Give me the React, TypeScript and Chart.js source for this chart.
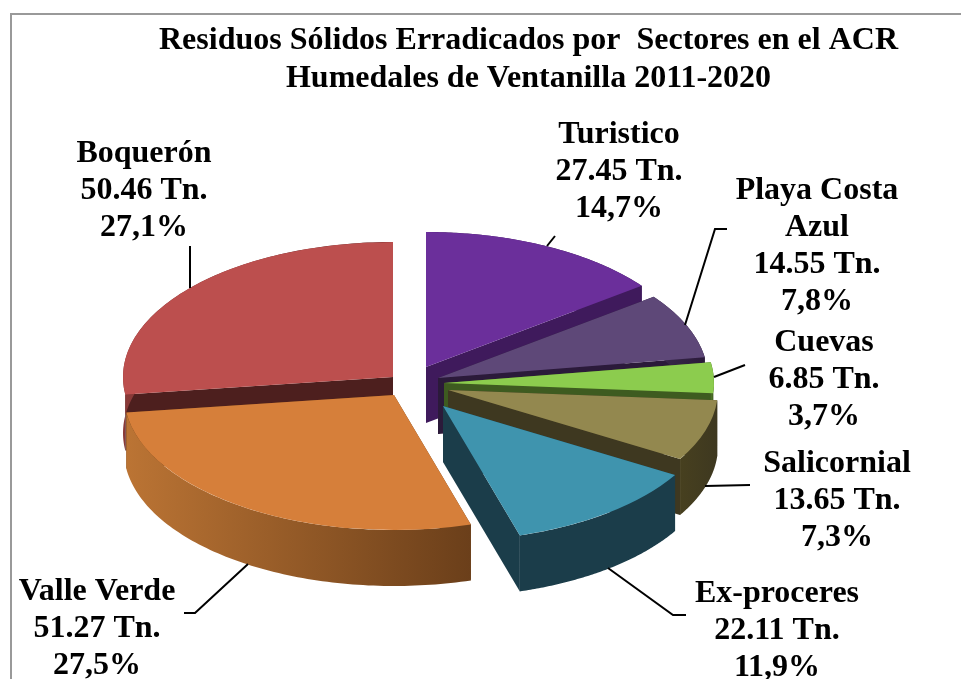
import React, { useEffect, useRef } from "react";
import { Chart, registerables } from "chart.js";

Chart.register(...registerables);

const categories = ["Turistico", "Playa Costa Azul", "Cuevas", "Salicornial", "Ex-proceres", "Valle Verde", "Boquerón"];
const tonnes = [27.45, 14.55, 6.85, 13.65, 22.11, 51.27, 50.46];
const tonneLabels = ["27.45 Tn.", "14.55 Tn.", "6.85 Tn.", "13.65 Tn.", "22.11 Tn.", "51.27 Tn.", "50.46 Tn."];
const percentLabels = ["14,7%", "7,8%", "3,7%", "7,3%", "11,9%", "27,5%", "27,1%"];
const titleLines = ["Residuos Sólidos Erradicados por  Sectores en el ACR", "Humedales de Ventanilla 2011-2020"];

const topColors = ["#6b2f9b", "#5e4878", "#8ccc4e", "#93884f", "#3f94ae", "#d67f3a", "#bc4f4e"];
const faceColors = ["#3f1a5c", "#2b1a3a", "#3e5b20", "#3e3820", "#1b3d4a", "#6b3f1a", "#4d1f1e"];
const wallLeftColors = ["#3f1a5c", "#3a2a4c", "#4e7328", "#47401f", "#1b3d4a", "#bb7434", "#8a3a38"];
const wallRightColors = ["#3f1a5c", "#2b1a3a", "#3e5b20", "#3e3820", "#1b3d4a", "#6b3f1a", "#4d1f1e"];

// Layout of the exploded 3-D pie
const RADIUS = 270;
const TILT = 0.5;
const DEPTH = 56;
const apexX = [426, 438, 444, 448, 443, 394, 393];
const apexY = [367, 378, 383, 390, 406, 395, 377];
const paintOrder = [6, 0, 1, 2, 3, 5, 4];

const FONT = "bold 32px 'Liberation Serif', 'Times New Roman', serif";
const LINE_GAP = 37;
const labelLayout = [
  { cx: 619, y: 135, lines: ["Turistico"] },
  { cx: 817, y: 191, lines: ["Playa Costa", "Azul"] },
  { cx: 824, y: 343, lines: ["Cuevas"] },
  { cx: 837, y: 464, lines: ["Salicornial"] },
  { cx: 777, y: 594, lines: ["Ex-proceres"] },
  { cx: 97, y: 592, lines: ["Valle Verde"] },
  { cx: 144, y: 154, lines: ["Boquerón"] },
];
const leaders = [
  [[547, 246], [555, 236]],
  [[685, 325], [715, 229], [727, 229]],
  [[714, 377], [745, 365]],
  [[705, 486], [750, 485]],
  [[608, 568], [673, 615], [686, 615]],
  [[248, 564], [195, 613], [184, 613]],
  [[190, 288], [190, 246]],
];

const pie3d = {
  id: "pie3d",
  beforeDraw(chart: any) {
    const { ctx, width, height } = chart;
    ctx.save();
    ctx.strokeStyle = "#999999";
    ctx.lineWidth = 2;
    ctx.beginPath();
    ctx.moveTo(11, height);
    ctx.lineTo(11, 14);
    ctx.lineTo(width, 14);
    ctx.stroke();
    ctx.restore();
  },
  beforeDatasetDraw(chart: any, args: any) {
    const { ctx } = chart;
    const arcs = chart.getDatasetMeta(args.index).data;
    const pt = (i: number, a: number, r: number, d: number) => [
      apexX[i] + Math.cos(a) * r,
      apexY[i] + Math.sin(a) * r * TILT + d,
    ];
    for (const i of paintOrder) {
      const arc = arcs[i];
      const { startAngle: s, endAngle: e } = arc;
      const r = arc.outerRadius;
      // radial cut faces
      ctx.fillStyle = faceColors[i];
      for (const a of [s, e]) {
        const o = pt(i, a, r, 0);
        const o2 = pt(i, a, r, DEPTH);
        ctx.beginPath();
        ctx.moveTo(apexX[i], apexY[i]);
        ctx.lineTo(o[0], o[1]);
        ctx.lineTo(o2[0], o2[1]);
        ctx.lineTo(apexX[i], apexY[i] + DEPTH);
        ctx.closePath();
        ctx.fill();
      }
      // outer wall
      const steps = 90;
      let minX = Infinity;
      let maxX = -Infinity;
      ctx.beginPath();
      for (let k = 0; k <= steps; k++) {
        const p = pt(i, s + ((e - s) * k) / steps, r, 0);
        minX = Math.min(minX, p[0]);
        maxX = Math.max(maxX, p[0]);
        if (k === 0) ctx.moveTo(p[0], p[1]);
        else ctx.lineTo(p[0], p[1]);
      }
      for (let k = steps; k >= 0; k--) {
        const p = pt(i, s + ((e - s) * k) / steps, r, DEPTH);
        ctx.lineTo(p[0], p[1]);
      }
      ctx.closePath();
      const g = ctx.createLinearGradient(minX, 0, maxX, 0);
      g.addColorStop(0, wallLeftColors[i]);
      g.addColorStop(1, wallRightColors[i]);
      ctx.fillStyle = g;
      ctx.fill();
      // top surface, drawn by the library's own arc element
      ctx.save();
      ctx.translate(apexX[i], apexY[i]);
      ctx.scale(1, TILT);
      ctx.translate(-arc.x, -arc.y);
      arc.draw(ctx);
      ctx.restore();
    }
    return false;
  },
  afterDatasetsDraw(chart: any) {
    const { ctx } = chart;
    ctx.save();
    ctx.strokeStyle = "#000000";
    ctx.lineWidth = 2;
    for (const path of leaders) {
      ctx.beginPath();
      path.forEach((p, k) => (k === 0 ? ctx.moveTo(p[0], p[1]) : ctx.lineTo(p[0], p[1])));
      ctx.stroke();
    }
    ctx.fillStyle = "#000000";
    ctx.font = FONT;
    ctx.textAlign = "center";
    ctx.textBaseline = "middle";
    labelLayout.forEach((l, i) => {
      const lines = [...l.lines, tonneLabels[i], percentLabels[i]];
      lines.forEach((t, k) => ctx.fillText(t, l.cx, l.y + k * LINE_GAP));
    });
    ctx.restore();
  },
};

export default function App() {
  const ref = useRef<HTMLCanvasElement>(null);
  useEffect(() => {
    const chart = new Chart(ref.current as HTMLCanvasElement, {
      type: "pie",
      data: {
        labels: categories,
        datasets: [
          {
            data: tonnes,
            backgroundColor: topColors,
            borderWidth: 0,
            radius: RADIUS,
          } as any,
        ],
      },
      options: {
        responsive: false,
        animation: false,
        layout: { padding: { left: 96 } },
        plugins: {
          legend: { display: false },
          tooltip: { enabled: false },
          title: {
            display: true,
            text: titleLines,
            color: "#000000",
            font: { family: "'Liberation Serif', 'Times New Roman', serif", size: 32, weight: "bold", lineHeight: 1.19 },
            padding: { top: 22, bottom: 0 },
          },
        },
      },
      plugins: [pie3d as any],
    });
    return () => chart.destroy();
  }, []);
  return (
    <div style={{ position: "absolute", left: 0, top: 0, width: 961, height: 679, background: "#fff", overflow: "hidden" }}>
      <canvas ref={ref} width={961} height={679} style={{ display: "block" }} />
    </div>
  );
}
